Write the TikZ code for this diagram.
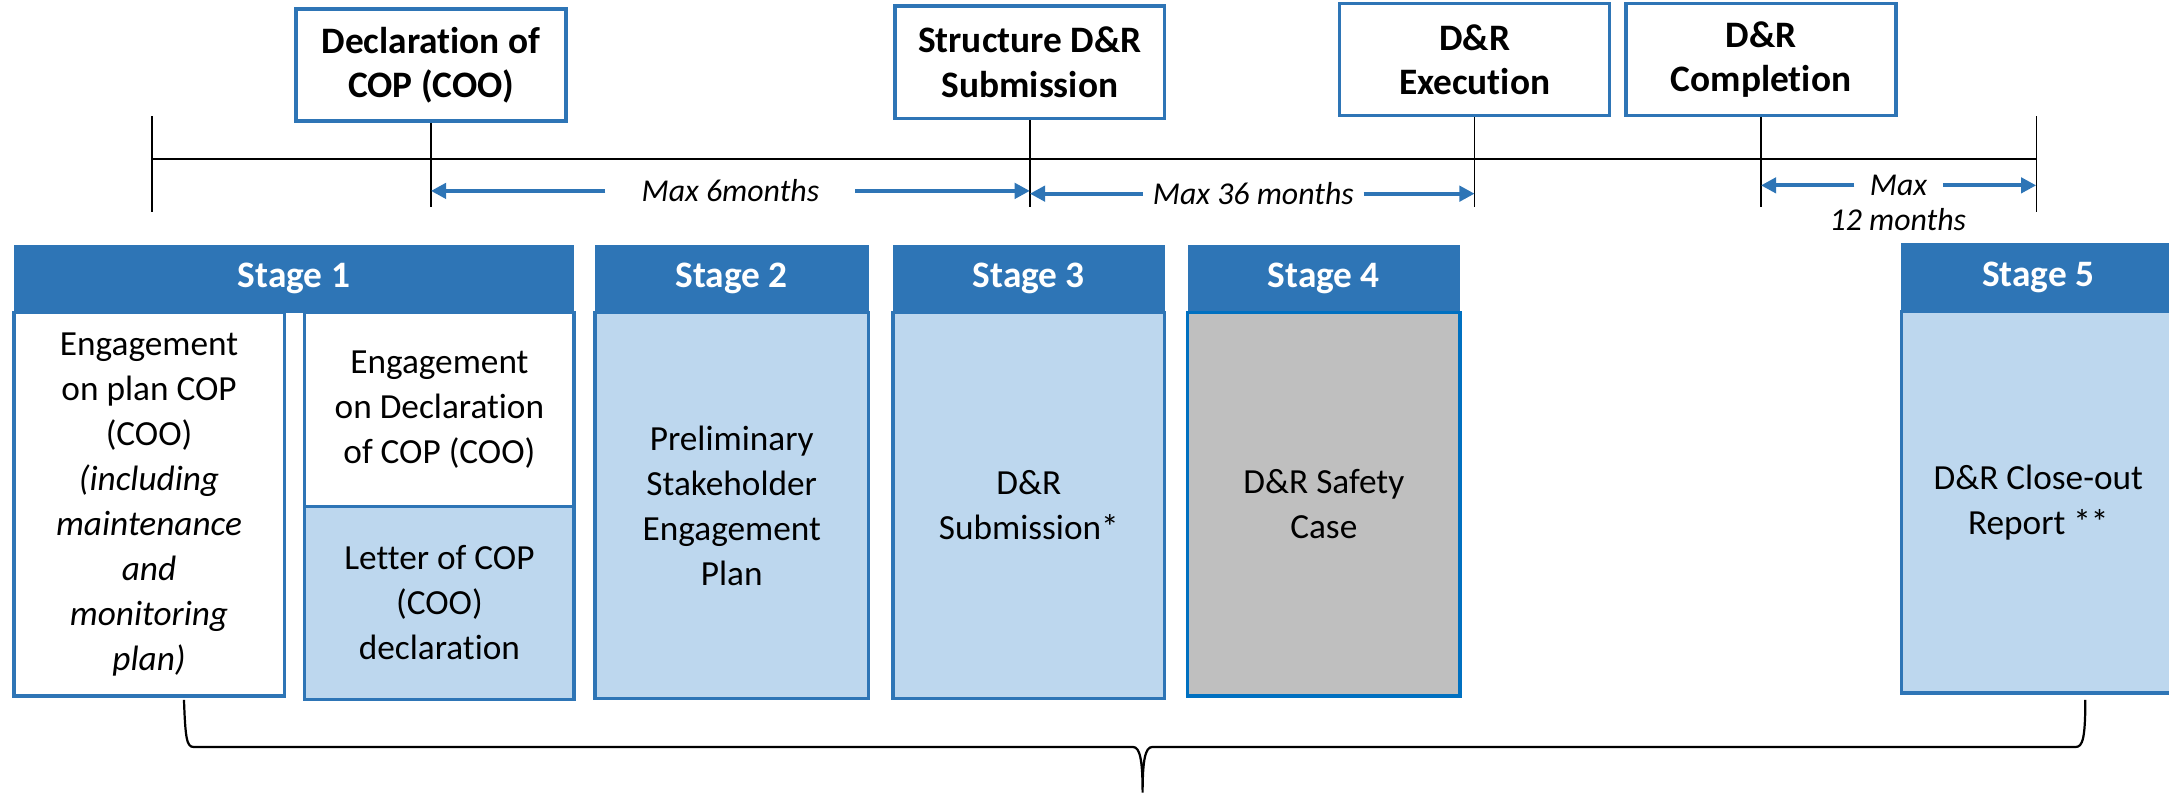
\documentclass[tikz,border=0pt]{standalone}
\usepackage{fontspec}
\setmainfont[Ligatures=NoCommon]{Carlito}
\usetikzlibrary{arrows.meta,positioning}

\definecolor{hdblue}{HTML}{2E75B6}
\definecolor{pale}{HTML}{BDD7EE}
\definecolor{greybox}{HTML}{BFBFBF}
\definecolor{brblue}{HTML}{0070C0}

\tikzset{
  milestone/.style={draw=hdblue, line width=2.5pt, fill=white, align=center,
    minimum width=195pt, minimum height=81pt, inner sep=0pt,
    font=\bfseries\fontsize{27}{32}\selectfont},
  stagehead/.style={fill=hdblue, text=white, minimum height=49pt, inner sep=0pt, outer sep=0pt,
    font=\bfseries\fontsize{27}{32}\selectfont},
  stagebody/.style={draw=hdblue, line width=2.5pt, fill=pale, align=center, inner sep=0pt, outer sep=0pt,
    font=\fontsize{25.5}{32.5}\selectfont},
  tickline/.style={black, line width=1pt},
  durarrow/.style={hdblue, line width=3pt, -{Triangle[length=11pt,width=11pt]}},
  maxlabel/.style={font=\itshape\fontsize{23}{28}\selectfont, inner ysep=0pt}
}

\begin{document}
\begin{tikzpicture}[x=1pt, y=-1pt]

\useasboundingbox (0,0) rectangle (1568,573);

% milestones on top
\node[milestone] (decl) at (311.5,47) {Declaration of\\COP (COO)};
\node[milestone] (subm) at (744.5,45) {Structure D\&R\\Submission};
\node[milestone] (exec) at (1066,43) {D\&R\\Execution};
\node[milestone] (compl) at (1273,43) {D\&R\\Completion};

% timeline
\coordinate (tl) at (110,115);
\coordinate (tr) at (1472,115);
\coordinate (tickend) at (0,150);
\draw[tickline] (tl) -- (tr);
\draw[tickline] (110,84) -- (110,153);
\draw[tickline] (1472,84) -- (1472,153);
\draw[tickline] (decl.south) -- (decl.south |- tickend);
\draw[tickline] (subm.south) -- (subm.south |- tickend);
\draw[tickline] (exec.south) -- (exec.south |- tickend);
\draw[tickline] (compl.south) -- (compl.south |- tickend);

% durations
\node[maxlabel, inner xsep=26pt] (m6) at (528,138) {Max 6months};
\draw[durarrow] (m6.west) -- (m6.west -| decl.south);
\draw[durarrow] (m6.east) -- (m6.east -| subm.south);

\node[maxlabel, inner xsep=7pt] (m36) at (906,140) {Max 36 months};
\draw[durarrow] (m36.west) -- (m36.west -| subm.south);
\draw[durarrow] (m36.east) -- (m36.east -| exec.south);

\node[maxlabel, inner xsep=11pt] (mx12) at (1372.5,134) {Max};
\node[maxlabel] (m12) at (1372,159) {12 months};
\draw[durarrow] (mx12.west) -- (mx12.west -| compl.south);
\draw[durarrow] (mx12.east) -- (mx12.east -| tr);

% stages
\node[stagehead, minimum width=405pt] (st1) at (212.5,201.5) {Stage 1};
\node[stagehead, minimum width=198pt] (st2) at (529,201.5) {Stage 2};
\node[stagehead, minimum width=196.5pt] (st3) at (743.75,201.5) {Stage 3};
\node[stagehead, minimum width=197pt] (st4) at (957,201.5) {Stage 4};
\node[stagehead, minimum width=198pt] (st5) at (1473.5,200.5) {Stage 5};

\node[stagebody, fill=white, below=0pt of st1.south west, anchor=north west,
  minimum width=195.5pt, minimum height=277pt] (b1a)
  {Engagement\\on plan COP\\(COO)\\\textit{(including}\\\textit{maintenance}\\\textit{and}\\\textit{monitoring}\\\textit{plan)}};
\node[stagebody, fill=white, below=0pt of st1.south east, anchor=north east,
  minimum width=194.7pt, minimum height=140pt] (b1b)
  {Engagement\\on Declaration\\of COP (COO)};
\node[stagebody, below=0pt of b1b, minimum width=194.7pt, minimum height=139.7pt] (b1c)
  {Letter of COP\\(COO)\\declaration};
\node[stagebody, below=0pt of st2, minimum width=198pt, minimum height=278.8pt] (b2)
  {Preliminary\\Stakeholder\\Engagement\\Plan};
\node[stagebody, below=0pt of st3, minimum width=196.5pt, minimum height=278.8pt] (b3)
  {D\&R\\Submission*};
\node[stagebody, draw=brblue, fill=greybox, below=0pt of st4, minimum width=197pt, minimum height=277.3pt] (b4)
  {D\&R Safety\\Case};
\node[stagebody, below=0pt of st5, minimum width=198pt, minimum height=276pt] (b5)
  {D\&R Close-out\\Report **};

% brace under the stages
\coordinate (brl) at (133,506);
\coordinate (brm) at (826,573);
\coordinate (brr) at (1507.5,506);
\draw[line width=1.6pt] (brl) .. controls +(1,28) and +(-5,0) .. ++(7,34) -- (819,540)
  .. controls +(5,0) and +(0,-24) .. (brm)
  .. controls +(0,-24) and +(-5,0) .. (833,540) -- (1500.5,540)
  .. controls +(5,0) and +(0,28) .. (brr);

\end{tikzpicture}
\end{document}
